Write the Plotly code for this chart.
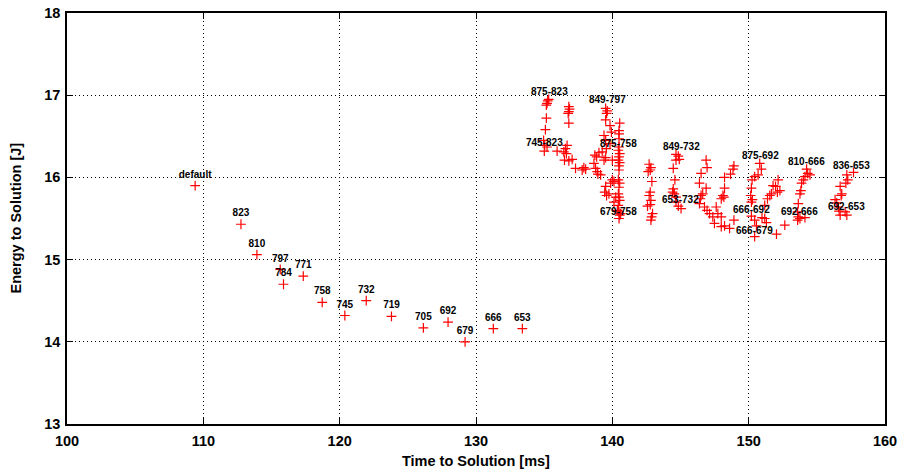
import plotly.graph_objects as go

# Single-parameter sweep (labelled points)
sweep_labels = ["default", "823", "810", "797", "784", "771", "758", "745", "732", "719", "705", "692", "679", "666", "653"]
sweep_time = [109.4, 112.76, 113.93, 115.64, 115.88, 117.33, 118.72, 120.38, 121.95, 123.8, 126.14, 127.95, 129.2, 131.27, 133.4]
sweep_energy = [15.9, 15.43, 15.06, 14.88, 14.70, 14.80, 14.48, 14.32, 14.50, 14.31, 14.17, 14.24, 14.0, 14.16, 14.16]

# Two-parameter sweep (cluster)
pair_time = [
    135.26, 135.33, 135.21, 135.16, 135.16, 135.09, 134.96, 135.04, 135.21, 135.01, 135.95, 136.44, 136.56, 136.68,
    136.63, 136.49, 136.81, 137.05, 137.30, 137.91, 138.04, 137.79,
    136.81, 136.86, 136.81, 136.76, 136.81,
    138.65, 138.77, 138.89, 138.94, 139.14, 138.85, 138.72, 139.02, 139.26, 139.39, 139.51,
    139.51, 139.63, 139.58, 139.51, 139.83, 139.93, 139.39, 139.51, 139.83, 139.56,
    140.54, 140.49, 140.49, 140.49, 140.49, 140.44, 140.54, 140.49, 140.44, 140.54, 140.49, 140.49,
    140.44, 140.54, 140.49, 140.44, 140.49, 140.54, 140.44, 140.49, 140.54, 140.49,
    140.00, 140.00, 140.12, 139.88, 139.51, 139.44, 139.58, 139.75, 140.25, 140.12, 140.37, 140.61,
    142.70, 142.83, 142.78, 142.63, 142.90, 142.78, 142.70, 142.83, 142.78, 142.58, 142.95, 142.88, 142.83,
    144.67, 144.84, 144.91, 144.67, 144.47, 144.59, 144.47, 144.42, 144.55, 144.67, 144.67, 144.84, 145.04,
    146.88, 146.95, 146.51, 146.39, 146.88, 146.63, 146.51, 146.46, 146.39, 146.76, 146.95, 147.13, 147.37, 147.49,
    148.92, 148.85, 148.67, 148.23, 148.23, 148.11, 147.99, 148.18, 147.62, 147.74, 147.99, 147.99, 148.23, 148.60, 148.92,
    150.81, 150.93, 150.69, 150.44, 150.25, 150.20, 150.15, 150.27, 150.20, 150.20, 150.44, 150.57, 150.44,
    151.79, 151.97, 152.16, 152.29, 152.11, 151.67, 151.55, 151.38, 151.18, 150.98, 151.18, 151.30, 152.04, 152.65,
    154.25, 154.33, 154.50, 154.13, 154.01, 153.88, 153.83, 153.76, 153.64, 153.59, 153.64, 153.76, 154.13, 153.59,
    157.69, 157.20, 157.27, 157.13, 156.71, 156.83, 156.78, 156.34, 156.46, 156.58, 156.63, 157.08, 157.20, 156.71,
]
pair_energy = [
    16.93, 16.95, 16.90, 16.88, 16.72, 16.58, 16.45, 16.39, 16.37, 16.32, 16.32, 16.31, 16.35, 16.39,
    16.29, 16.21, 16.20, 16.22, 16.11, 16.12, 16.10, 16.09,
    16.86, 16.83, 16.80, 16.78, 16.66,
    16.17, 16.11, 16.07, 16.04, 16.03, 16.25, 16.27, 16.30, 16.31, 16.21, 16.24,
    16.84, 16.81, 16.78, 16.70, 16.63, 16.55, 16.51, 16.45, 16.41, 16.35,
    16.66, 16.57, 16.53, 16.47, 16.37, 16.33, 16.29, 16.25, 16.21, 16.18, 16.14, 16.09,
    15.97, 15.93, 15.88, 15.80, 15.76, 15.72, 15.66, 15.58, 15.54, 15.50,
    16.21, 15.97, 15.95, 15.93, 15.89, 15.82, 15.78, 15.80, 15.76, 15.70, 15.60, 15.56,
    16.16, 16.12, 16.09, 16.07, 15.95, 15.82, 15.78, 15.72, 15.67, 15.65, 15.56, 15.52, 15.48,
    16.28, 16.26, 16.22, 16.21, 16.11, 15.97, 15.86, 15.82, 15.80, 15.76, 15.70, 15.65, 15.62,
    16.21, 16.12, 16.05, 15.93, 15.87, 15.80, 15.78, 15.74, 15.68, 15.64, 15.60, 15.56, 15.52, 15.44,
    16.14, 16.10, 16.04, 16.00, 15.87, 15.78, 15.74, 15.76, 15.64, 15.56, 15.52, 15.40, 15.41, 15.38, 15.48,
    16.17, 16.10, 16.03, 16.01, 15.97, 15.87, 15.78, 15.73, 15.70, 15.53, 15.48, 15.41, 15.28,
    15.90, 15.89, 15.97, 15.84, 15.82, 15.80, 15.78, 15.74, 15.66, 15.51, 15.50, 15.45, 15.31, 15.42,
    16.10, 16.05, 16.03, 16.01, 15.97, 15.93, 15.84, 15.80, 15.68, 15.58, 15.52, 15.50, 15.51, 15.48,
    16.06, 16.03, 15.97, 15.93, 15.89, 15.80, 15.78, 15.73, 15.69, 15.64, 15.59, 15.58, 15.54, 15.54,
]

# Cluster labels
pair_labels = ["875-823", "849-797", "745-823", "875-758", "679-758", "849-732", "653-732",
               "875-692", "666-692", "666-679", "810-666", "692-666", "836-653", "692-653"]
pair_label_time = [135.41, 139.63, 135.01, 140.44, 140.44, 145.04, 144.99,
                   150.88, 150.20, 150.44, 154.25, 153.71, 157.57, 157.15]
pair_label_energy = [17.04, 16.95, 16.42, 16.41, 15.59, 16.38, 15.73,
                     16.27, 15.61, 15.36, 16.19, 15.58, 16.15, 15.65]

x_title = "Time to Solution [ms]"
y_title = "Energy to Solution [J]"

FONT = "Liberation Sans, Arial, Helvetica, sans-serif"
marker = dict(symbol="cross-thin", size=7, color="#ff0000", line=dict(color="#ff0000", width=1.2))

fig = go.Figure()
fig.add_trace(go.Scatter(
    x=sweep_time, y=sweep_energy, mode="markers+text", text=sweep_labels,
    textposition="top center", marker=marker,
    textfont=dict(family=FONT, size=10, color="black", weight="bold"),
    showlegend=False, cliponaxis=False,
))
fig.add_trace(go.Scatter(
    x=pair_time, y=pair_energy, mode="markers", marker=marker, showlegend=False,
))
for lab, xx, yy in zip(pair_labels, pair_label_time, pair_label_energy):
    fig.add_annotation(x=xx, y=yy, text=lab, showarrow=False, xref="x", yref="y",
                       font=dict(family=FONT, size=10, color="black", weight="bold"))

title_font = dict(family=FONT, size=14.5, color="black", weight="bold")
fig.add_annotation(text=x_title, xref="paper", yref="paper", x=0.5, y=0,
                   yshift=-37, yanchor="middle", showarrow=False, font=title_font)
fig.add_annotation(text=y_title, xref="paper", yref="paper", x=0, y=0.5,
                   xshift=-52, xanchor="center", textangle=-90, showarrow=False, font=title_font)

axis_common = dict(
    showline=True, linecolor="black", linewidth=1.5, mirror="ticks",
    ticks="inside", ticklen=6, tickcolor="black", tickwidth=1,
    showgrid=True, gridcolor="black", griddash="1px,3px", gridwidth=1,
    zeroline=False, automargin=False,
    tickfont=dict(family=FONT, size=14.5, color="black", weight="bold"),
)
fig.update_xaxes(range=[100, 160], dtick=10, tick0=100, ticklabelstandoff=3, **axis_common)
fig.update_yaxes(range=[13, 18], dtick=1, tick0=13, ticklabelstandoff=2, **axis_common)
fig.update_layout(
    width=902, height=469, autosize=False,
    margin=dict(l=67, r=17, t=13, b=45),
    paper_bgcolor="white", plot_bgcolor="white",
)
fig.write_html("out.html")
